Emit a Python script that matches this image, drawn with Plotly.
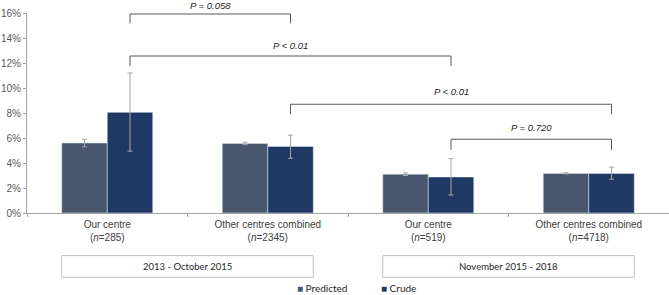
import plotly.graph_objects as go

categories = [
    "Our centre<br>(<i>n</i>=285)",
    "Other centres combined<br>(<i>n</i>=2345)",
    "Our centre<br>(<i>n</i>=519)",
    "Other centres combined<br>(<i>n</i>=4718)",
]
predicted = [5.6, 5.57, 3.1, 3.17]
predicted_err = [0.3, 0.1, 0.1, 0.05]
crude = [8.05, 5.33, 2.88, 3.17]
crude_err_plus = [3.15, 0.9, 1.47, 0.5]
crude_err_minus = [3.1, 0.95, 1.44, 0.47]
periods = ["2013 - October 2015", "November 2015 - 2018"]
period_groups = [(0, 1), (2, 3)]
comparisons = [  # (from category, to category, label)
    (0, 1, "P = 0.058"),
    (0, 2, "P < 0.01"),
    (1, 3, "P < 0.01"),
    (2, 3, "P = 0.720"),
]
series_names = ["Predicted", "Crude"]
y_ticks = [0, 2, 4, 6, 8, 10, 12, 14, 16]

# styling / layout
YMAX = 16
bargap = 0.433
half = (1 - bargap) / 2  # width of one bar in category units
c_pred = "#48566e"
c_crude = "#1f3864"
err_col = "#a6a6a6"
bracket_levels = [(15.92, 15.18, 16.62), (12.56, 11.76, 13.4), (8.7, 7.9, 9.7), (5.9, 5.05, 6.85)]

fig = go.Figure()
fig.add_bar(x=categories, y=predicted, name=series_names[0], marker_color=c_pred,
            error_y=dict(type="data", array=predicted_err, color=err_col, thickness=1, width=2.5))
fig.add_bar(x=categories, y=crude, name=series_names[1], marker_color=c_crude,
            error_y=dict(type="data", array=crude_err_plus, arrayminus=crude_err_minus,
                         color=err_col, thickness=1, width=2.5))

shapes = []
annotations = []
for (a, b, lab), (yh, yl, yt) in zip(comparisons, bracket_levels):
    xa = a + half / 2
    xb = b + half / 2
    shapes.append(dict(type="path", xref="x", yref="y",
                       path=f"M {xa},{yl} L {xa},{yh} L {xb},{yh} L {xb},{yl}",
                       line=dict(color="#595959", width=1)))
    annotations.append(dict(x=(xa + xb) / 2, y=yt / YMAX, xref="x", yref="paper", text=lab,
                            showarrow=False, yanchor="middle",
                            font=dict(family="Arial", size=9.5, color="#262626", style="italic")))

for (g0, g1), per in zip(period_groups, periods):
    x0 = g0 - half
    x1 = g1 + half
    shapes.append(dict(type="rect", xref="x", yref="paper", x0=x0, x1=x1, y0=-0.3215, y1=-0.213,
                       line=dict(color="#bfbfbf", width=1), fillcolor="white"))
    annotations.append(dict(x=(x0 + x1) / 2, y=-0.2665, xref="x", yref="paper", text=per,
                            showarrow=False, yanchor="middle",
                            font=dict(family="Lato", size=9.5, color="#262626")))

# legend drawn as text entries below the boxes
for name, col, lx in zip(series_names, [c_pred, c_crude], [0.418, 0.549]):
    annotations.append(dict(x=lx, y=-0.373, xref="paper", yref="paper", xanchor="left",
                            yanchor="middle", showarrow=False,
                            text=f"<span style='color:{col}'>■</span> {name}",
                            font=dict(family="Lato", size=10, color="#262626")))

fig.update_layout(
    width=669, height=295,
    margin=dict(l=27, r=0, t=13, b=82),
    barmode="group", bargap=bargap, bargroupgap=0,
    plot_bgcolor="white", paper_bgcolor="white",
    shapes=shapes, annotations=annotations,
    showlegend=False,
    font=dict(family="Arial", size=10, color="#404040"),
)
fig.update_xaxes(type="category", showline=True, linecolor="#a6a6a6", linewidth=1,
                 ticks="outside", tickson="boundaries", ticklen=3, tickcolor="#a6a6a6",
                 tickfont=dict(family="Arial", size=10, color="#404040"),
                 ticklabelstandoff=2,
                 showgrid=False, range=[-0.5, 3.5], automargin=False)
fig.update_yaxes(range=[0, YMAX], tickvals=y_ticks, ticktext=[f"{v}%" for v in y_ticks],
                 showline=True, linecolor="#a6a6a6", linewidth=1,
                 ticks="outside", ticklen=3, tickcolor="#a6a6a6",
                 tickfont=dict(family="Arial", size=10, color="#595959"),
                 showgrid=False, zeroline=False, automargin=False)

fig.write_html("out.html", config={"displayModeBar": False},
               post_script="document.body.style.margin='0';document.body.style.overflow='hidden';")
